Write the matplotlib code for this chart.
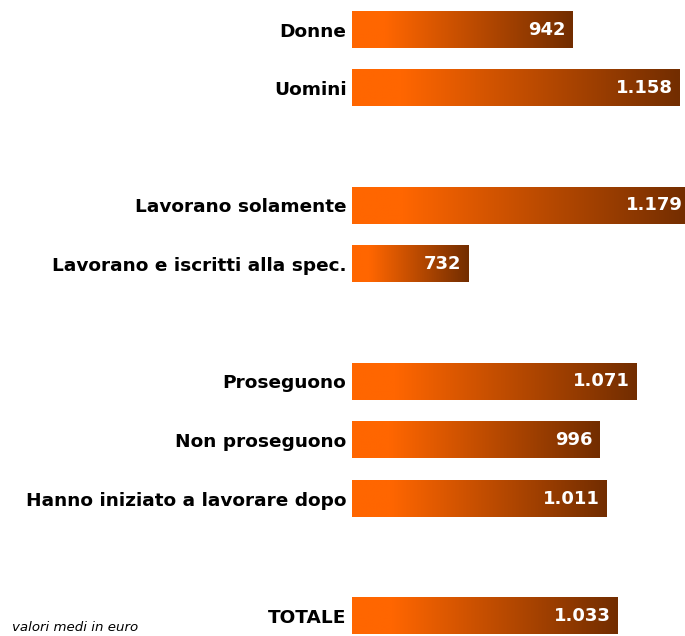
import matplotlib.pyplot as plt
import numpy as np
from matplotlib.colors import LinearSegmentedColormap

labels = ['Donne', 'Uomini',
          'Lavorano solamente', 'Lavorano e iscritti alla spec.',
          'Proseguono', 'Non proseguono', 'Hanno iniziato a lavorare dopo',
          'TOTALE']
values = [942, 1158, 1179, 732, 1071, 996, 1011, 1033]
# slot positions, with empty slots between the groups
positions = [0, 1, 3, 4, 6, 7, 8, 10]

cmap = LinearSegmentedColormap.from_list(
    'bar', [(0, '#ff6600'), (0.15, '#ff6600'), (1, '#722d00')])
grad = np.linspace(0, 1, 256).reshape(1, -1)

fig = plt.figure(figsize=(6.85, 6.36), dpi=100)
ax = fig.add_axes([352 / 685, 0, 1 - 352 / 685, 1])
x0, x1 = 497, 1169

h = 0.62
for pos, v in zip(positions, values):
    ax.imshow(grad, cmap=cmap, aspect='auto', interpolation='bilinear',
              extent=(x0, v, pos + h / 2, pos - h / 2), zorder=2)
    txt = f'{v:,}'.replace(',', '.')
    ax.text(v - 14, pos, txt, color='white', fontweight='bold',
            fontsize=13, ha='right', va='center', zorder=3)

ax.set_xlim(x0, x1)
ax.set_ylim(10.34, -0.503)
ax.set_yticks(positions)
ax.set_yticklabels(labels, fontweight='bold', fontsize=13.3)
ax.tick_params(axis='y', length=0, pad=4)
ax.set_xticks([])
for s in ax.spines.values():
    s.set_visible(False)

fig.text(12 / 685, 1 - 621 / 636, 'valori medi in euro', fontstyle='italic',
         fontsize=9.6, va='top', ha='left')

fig.savefig('out.png', dpi=100)
